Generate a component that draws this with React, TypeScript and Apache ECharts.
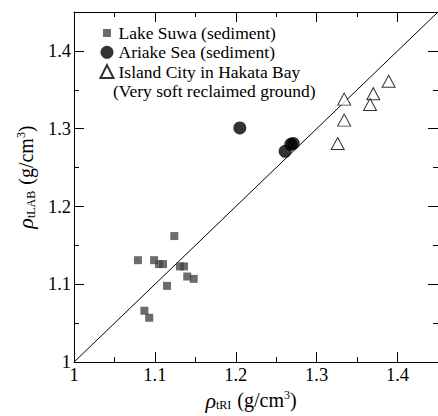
import React, { useEffect, useRef } from 'react';
import * as echarts from 'echarts';

const FONT = '"Times New Roman", Times, "Liberation Serif", Tinos, "Nimbus Roman", "DejaVu Serif", serif';

const seriesNames = [
  'Lake Suwa (sediment)',
  'Ariake Sea (sediment)',
  'Island City in Hakata Bay',
];
const legendNote = '(Very soft reclaimed ground)';

// [rho_tRI, rho_tLAB]
const lakeSuwa: number[][] = [
  [1.079, 1.131],
  [1.099, 1.131],
  [1.105, 1.126],
  [1.110, 1.126],
  [1.124, 1.162],
  [1.131, 1.123],
  [1.136, 1.123],
  [1.140, 1.110],
  [1.148, 1.107],
  [1.115, 1.098],
  [1.087, 1.066],
  [1.093, 1.057],
];
const ariakeSea: number[][] = [
  [1.205, 1.301],
  [1.261, 1.271],
  [1.268, 1.280],
  [1.271, 1.281],
];
const islandCity: number[][] = [
  [1.334, 1.338],
  [1.334, 1.311],
  [1.326, 1.281],
  [1.370, 1.345],
  [1.366, 1.331],
  [1.389, 1.361],
];
const equalityLine: number[][] = [
  [1.0, 1.0],
  [1.45, 1.45],
];

const axisMin = 1.0;
const axisMax = 1.45;
const axisInterval = 0.1;

export default function App() {
  const ref = useRef<HTMLDivElement>(null);
  useEffect(() => {
    if (!ref.current) return;
    const chart = echarts.init(ref.current, null, { renderer: 'svg' });

    const tickCommon = {
      axisLine: { show: true, lineStyle: { color: '#000', width: 1 } },
      axisTick: { show: true, inside: true, length: 10, lineStyle: { color: '#000', width: 1 } },
      minorTick: { show: true, splitNumber: 2, length: 5, lineStyle: { color: '#000', width: 1 } },
      splitLine: { show: false },
      minorSplitLine: { show: false },
    };
    const labelStyle = {
      fontFamily: FONT,
      fontSize: 18.5,
      color: '#000',
      formatter: (v: number) => (Math.abs(v - 1) < 1e-9 ? '1' : v.toFixed(1)),
    };
    const richName = {
      rho: { fontFamily: FONT, fontStyle: 'italic', fontSize: 22, color: '#000' },
      sub: { fontFamily: FONT, fontSize: 12, color: '#000', verticalAlign: 'bottom', padding: [8, 1, 0, 0] },
      sup: { fontFamily: FONT, fontSize: 12, color: '#000', verticalAlign: 'top', padding: [0, 0, 8, 0] },
      padL: { width: 20, fontSize: 12 },
      padR: { width: 10, fontSize: 12 },
    };

    chart.setOption({
      animation: false,
      backgroundColor: '#fff',
      grid: { left: 74, top: 12, width: 367, bottom: 45, containLabel: false },
      legend: {
        orient: 'vertical',
        left: 99.5,
        top: 24,
        padding: 0,
        itemWidth: 13,
        itemHeight: 13,
        itemGap: 1.3,
        itemTextGap: 12.5,
        textStyle: { fontFamily: FONT, fontSize: 17.5, lineHeight: 17, color: '#000' },
        data: [
          { name: seriesNames[0], icon: 'path://M0,0L0,0M13,13L13,13M2.5,2.5h8v8h-8z' },
          { name: seriesNames[1], icon: 'circle' },
          { name: seriesNames[2], icon: 'triangle' },
        ],
      },
      graphic: [
        {
          type: 'text',
          left: 113,
          top: 82,
          style: { text: legendNote, fontFamily: FONT, fontSize: 17.5, lineHeight: 17, fill: '#000' },
        },
      ],
      xAxis: [
        {
          type: 'value',
          position: 'bottom',
          min: axisMin,
          max: axisMax,
          interval: axisInterval,
          ...tickCommon,
          axisLabel: { ...labelStyle, margin: 3, showMaxLabel: false },
          name: '{rho|ρ}{sub|tRI} (g/cm{sup|3}){padR|}',
          nameLocation: 'middle',
          nameGap: 20,
          nameTextStyle: { fontFamily: FONT, fontSize: 20, color: '#000', rich: richName },
        },
        {
          type: 'value',
          position: 'top',
          min: axisMin,
          max: axisMax,
          interval: axisInterval,
          ...tickCommon,
          axisLabel: { show: false },
        },
      ],
      yAxis: [
        {
          type: 'value',
          position: 'left',
          min: axisMin,
          max: axisMax,
          interval: axisInterval,
          ...tickCommon,
          axisLabel: { ...labelStyle, margin: 3, showMaxLabel: false },
          name: '{padL|}{rho|ρ}{sub|tLAB} (g/cm{sup|3})',
          nameLocation: 'middle',
          nameRotate: 90,
          nameGap: 37,
          nameTextStyle: { fontFamily: FONT, fontSize: 20, color: '#000', rich: richName },
        },
        {
          type: 'value',
          position: 'right',
          min: axisMin,
          max: axisMax,
          interval: axisInterval,
          ...tickCommon,
          axisLabel: { show: false },
        },
      ],
      series: [
        {
          type: 'line',
          data: equalityLine,
          xAxisIndex: 0,
          yAxisIndex: 0,
          showSymbol: false,
          symbol: 'none',
          lineStyle: { color: '#000', width: 1 },
          silent: true,
          z: 1,
        },
        {
          name: seriesNames[0],
          type: 'scatter',
          data: lakeSuwa,
          symbol: 'rect',
          symbolSize: 8,
          itemStyle: { color: '#474747' },
          z: 3,
        },
        {
          name: seriesNames[1],
          type: 'scatter',
          data: ariakeSea,
          symbol: 'circle',
          symbolSize: 13,
          itemStyle: { color: '#000' },
          z: 3,
        },
        {
          name: seriesNames[2],
          type: 'scatter',
          data: islandCity,
          symbol: 'triangle',
          symbolSize: [13, 12],
          itemStyle: { color: '#fff', borderColor: '#000', borderWidth: 1 },
          z: 3,
        },
      ],
    });
    return () => chart.dispose();
  }, []);
  return <div ref={ref} style={{ width: 438, height: 416, position: 'absolute', left: 0, top: 0 }} />;
}
